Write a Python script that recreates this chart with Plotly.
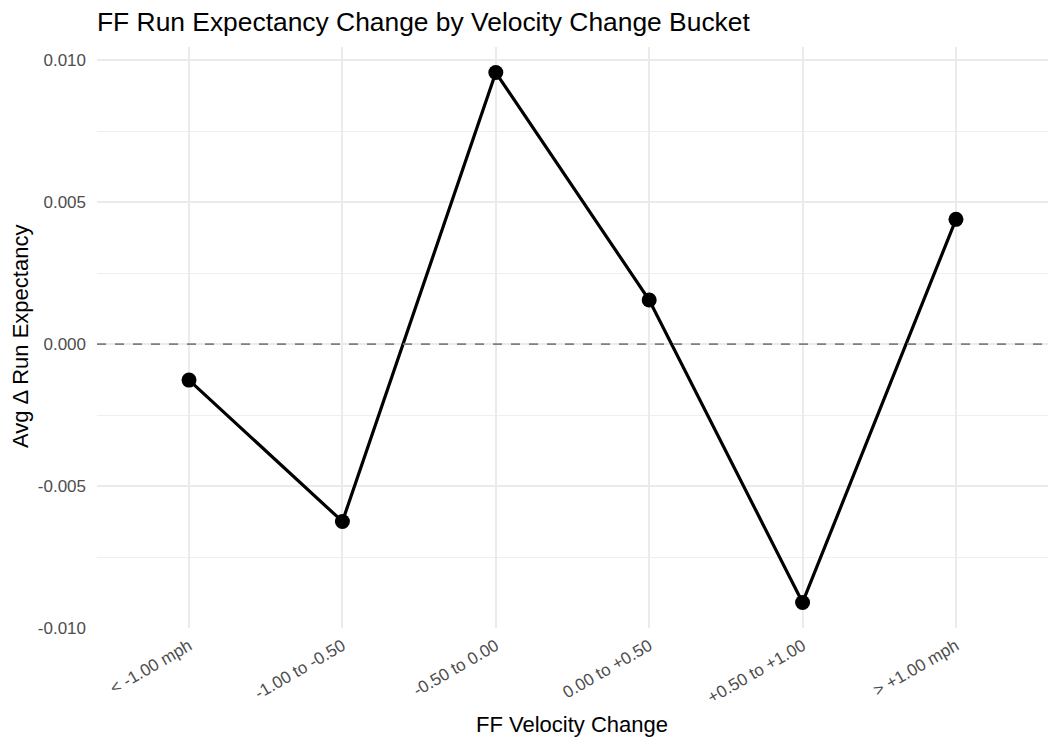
import plotly.graph_objects as go

buckets = ["< -1.00 mph", "-1.00 to -0.50", "-0.50 to 0.00", "0.00 to +0.50", "+0.50 to +1.00", "> +1.00 mph"]
avg_delta_re = [-0.00127, -0.00625, 0.00956, 0.00155, -0.00910, 0.00439]
y_tick_vals = [-0.010, -0.005, 0.000, 0.005, 0.010]
y_tick_text = ["-0.010", "-0.005", "0.000", "0.005", "0.010"]

FONT = "Liberation Sans, Arial, Helvetica, sans-serif"
GRID = "#EBEBEB"
W, H = 1059, 747
OFF = 8  # page body margin offset
L, R, T, B = 97 - OFF, 11 + OFF, 47 - OFF, 119 + OFF
PW, PH = W - L - R, H - T - B

fig = go.Figure()
fig.add_trace(go.Scatter(
    x=list(range(len(buckets))), y=avg_delta_re,
    mode="lines+markers",
    line=dict(color="black", width=3.2),
    marker=dict(color="black", size=15),
    showlegend=False,
))
fig.add_hline(y=0, line=dict(color="#7F7F7F", width=1.8, dash="dash"))

fig.update_layout(
    width=W, height=H,
    paper_bgcolor="white", plot_bgcolor="white",
    margin=dict(l=L, r=R, t=T, b=B, autoexpand=False),
    font=dict(family=FONT, color="black"),
    title=dict(text="FF Run Expectancy Change by Velocity Change Bucket",
               x=L/W, xanchor="left", y=1-(22-OFF)/H, yanchor="middle",
               font=dict(size=26.4, color="black", family=FONT)),
    xaxis=dict(
        tickmode="array", tickvals=list(range(len(buckets))), ticktext=buckets,
        range=[-0.6, len(buckets) - 0.4],
        tickangle=-30, tickfont=dict(size=17, color="#4D4D4D"),
        showgrid=True, gridcolor=GRID, gridwidth=1.6,
        zeroline=False, showline=False, ticks="", automargin=False,
        ticklabelstandoff=4,
    ),
    yaxis=dict(
        tickmode="array", tickvals=y_tick_vals, ticktext=y_tick_text,
        range=[-0.01, 0.01046],
        tickfont=dict(size=17, color="#4D4D4D"),
        showgrid=True, gridcolor=GRID, gridwidth=1.6,
        minor=dict(tickmode="array", tickvals=[-0.0075, -0.0025, 0.0025, 0.0075],
                   showgrid=True, gridcolor="#EFEFEF", gridwidth=1),
        zeroline=False, showline=False, ticks="", ticklabelstandoff=10,
        automargin=False,
    ),
    annotations=[
        dict(text="FF Velocity Change", xref="paper", yref="paper",
             x=(572 - OFF - L) / PW, y=-(724 - 628) / PH, yanchor="middle",
             xanchor="center", showarrow=False,
             font=dict(size=22, color="black", family=FONT)),
        dict(text="Avg Δ Run Expectancy", xref="paper", yref="paper",
             x=-(97 - 20) / PW, y=(628 - 337) / PH,
             xanchor="center", yanchor="middle", textangle=-90, showarrow=False,
             font=dict(size=22, color="black", family=FONT)),
    ],
)

fig.write_html("out.html")
